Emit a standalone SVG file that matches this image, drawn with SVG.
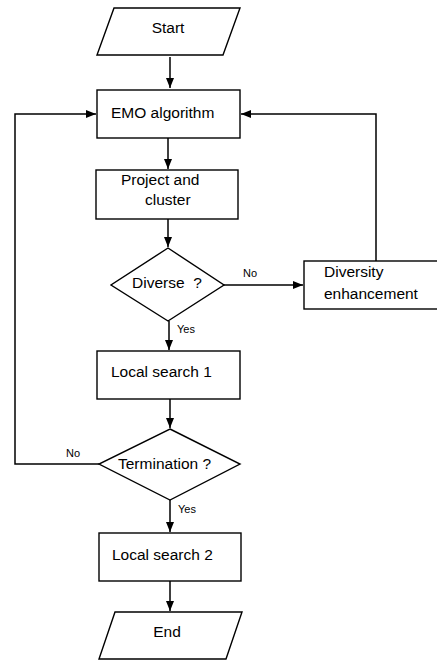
<svg xmlns="http://www.w3.org/2000/svg" width="437" height="660" viewBox="0 0 437 660">
<style>
.s{fill:#fff;stroke:#000;stroke-width:1.4}
.t{font-family:"Liberation Sans",Arial,sans-serif;font-size:15.5px;fill:#000;white-space:pre}
.l{font-family:"Liberation Sans",Arial,sans-serif;font-size:11px;fill:#000}
.c{fill:none;stroke:#000;stroke-width:1.5}
</style>
<defs>
<marker id="a" viewBox="0 0 10 8" refX="10" refY="4" markerWidth="10" markerHeight="8" markerUnits="userSpaceOnUse" orient="auto">
<path d="M0,0 L10,4 L0,8 Z" fill="#000"/>
</marker>
</defs>
<rect width="437" height="660" fill="#fff"/>
<g id="connectors">
<path class="c" d="M170,57 V88" marker-end="url(#a)"/>
<path class="c" d="M168,138 V169" marker-end="url(#a)"/>
<path class="c" d="M168,219 V247" marker-end="url(#a)"/>
<path class="c" d="M224,285 H303" marker-end="url(#a)"/>
<path class="c" d="M376,261 V114 H241" marker-end="url(#a)"/>
<path class="c" d="M169,321 V350" marker-end="url(#a)"/>
<path class="c" d="M170,399 V428" marker-end="url(#a)"/>
<path class="c" d="M99,464 H15 V114 H96" marker-end="url(#a)"/>
<path class="c" d="M170,500 V532" marker-end="url(#a)"/>
<path class="c" d="M170,581 V611" marker-end="url(#a)"/>
<text class="l" x="243" y="277">No</text>
<text class="l" x="177" y="333">Yes</text>
<text class="l" x="66" y="457">No</text>
<text class="l" x="178" y="513">Yes</text>
</g>
<g id="start">
<path class="s" d="M114,8 H240 L223,55 H97 Z"/>
<text class="t" x="168" y="33" text-anchor="middle">Start</text>
</g>
<g id="emo">
<rect class="s" x="97" y="90" width="143" height="48"/>
<text class="t" x="111" y="118">EMO algorithm</text>
</g>
<g id="project">
<rect class="s" x="96" y="170" width="142" height="49"/>
<text class="t" x="121" y="185">Project and</text>
<text class="t" x="145" y="205">cluster</text>
</g>
<g id="diverse">
<path class="s" d="M168,248 L224,285 L168,321 L111,285 Z"/>
<text class="t" x="132" y="288" xml:space="preserve">Diverse  ?</text>
</g>
<g id="diversity">
<rect class="s" x="304" y="261" width="134" height="48"/>
<text class="t" x="324" y="277">Diversity</text>
<text class="t" x="324" y="299">enhancement</text>
</g>
<g id="ls1">
<rect class="s" x="97" y="351" width="143" height="48"/>
<text class="t" x="111" y="377">Local search 1</text>
</g>
<g id="termination">
<path class="s" d="M170,429 L240,464 L170,500 L99,464 Z"/>
<text class="t" x="118" y="469">Termination ?</text>
</g>
<g id="ls2">
<rect class="s" x="99" y="533" width="142" height="48"/>
<text class="t" x="112" y="560">Local search 2</text>
</g>
<g id="end">
<path class="s" d="M115,612 H242 L226,659 H99 Z"/>
<text class="t" x="167" y="637" text-anchor="middle">End</text>
</g>
</svg>
